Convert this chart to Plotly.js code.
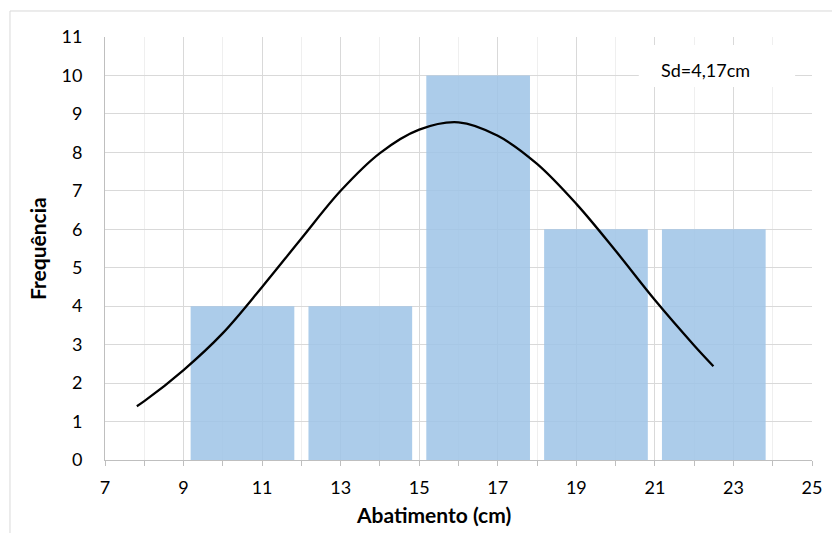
<!DOCTYPE html>
<html>
<head>
<meta charset="utf-8">
<script src="https://cdn.plot.ly/plotly-3.0.1.min.js"></script>
<style>html,body{margin:0;padding:0;background:#fff;}#chart{width:832px;height:533px;}</style>
</head>
<body>
<div id="chart"></div>
<script>
// Histogram bins (class midpoints) and frequencies
const binCenters = [10.5, 13.5, 16.5, 19.5, 22.5];
const frequencies = [4, 4, 10, 6, 6];
// Fitted normal curve
const curveX = [7.81, 8, 9, 10, 11, 12, 13, 14, 15, 16, 17, 18, 19, 20, 21, 22, 22.49];
const curveY = [1.40, 1.53, 2.34, 3.30, 4.50, 5.76, 7.00, 7.98, 8.59, 8.78, 8.43, 7.70, 6.66, 5.44, 4.16, 2.98, 2.44];
const xTicks = [7, 9, 11, 13, 15, 17, 19, 21, 23, 25];
const yTicks = [0, 1, 2, 3, 4, 5, 6, 7, 8, 9, 10, 11];
const sdLabel = 'Sd=4,17cm';
const xTitle = 'Abatimento (cm)';
const yTitle = 'Frequência';

const FONT = 'Lato, Carlito, "Open Sans", sans-serif';

const traces = [
  {
    type: 'bar', x: binCenters, y: frequencies, width: 2.64,
    marker: {color: 'rgba(157,195,230,0.85)', line: {width: 0}},
    hoverinfo: 'skip', showlegend: false
  },
  {
    type: 'scatter', mode: 'lines', x: curveX, y: curveY,
    line: {color: '#000000', width: 2.3, shape: 'spline', smoothing: 1},
    hoverinfo: 'skip', showlegend: false
  }
];

const layout = {
  width: 832, height: 533,
  margin: {l: 105, r: 20, t: 37, b: 73},
  paper_bgcolor: '#ffffff', plot_bgcolor: '#ffffff',
  font: {family: FONT, size: 18, color: '#000000'},
  showlegend: false,
  xaxis: {
    range: [7, 25], tickvals: xTicks, ticktext: xTicks.map(String),
    showgrid: true, gridcolor: '#d9d9d9', gridwidth: 1,
    showline: true, linecolor: '#bfbfbf', linewidth: 1,
    ticks: 'outside', ticklen: 5, tickcolor: '#bfbfbf', ticklabelstandoff: 6,
    minor: {dtick: 1, tick0: 7, showgrid: true, gridcolor: '#efefef', gridwidth: 1, ticks: 'outside', ticklen: 5, tickcolor: '#bfbfbf'},
    zeroline: false, fixedrange: true,
    tickfont: {family: FONT, size: 18, color: '#000000'}
  },
  yaxis: {
    range: [0, 11], tickvals: yTicks, ticktext: yTicks.map(String),
    showgrid: true, gridcolor: '#d9d9d9', gridwidth: 1,
    showline: true, linecolor: '#bfbfbf', linewidth: 1,
    ticks: '', ticklabelstandoff: 18, zeroline: false, fixedrange: true,
    tickfont: {family: FONT, size: 18, color: '#000000'}
  },
  annotations: [
    {
      xref: 'x', yref: 'y', x: 22.30, y: 10.14, text: sdLabel, showarrow: false,
      xanchor: 'center', yanchor: 'middle',
      font: {family: FONT, size: 18, color: '#000000'}
    },
    {
      xref: 'paper', yref: 'paper', x: 0.4653, y: -0.128, text: xTitle, showarrow: false,
      xanchor: 'center', yanchor: 'middle',
      font: {family: FONT, size: 21, color: '#000000', weight: 'bold'}
    },
    {
      xref: 'paper', yref: 'paper', x: -0.0962, y: 0.501, text: yTitle, showarrow: false,
      textangle: -90, xanchor: 'center', yanchor: 'middle',
      font: {family: FONT, size: 21, color: '#000000', weight: 'bold'}
    }
  ],
  shapes: [
    {type: 'rect', xref: 'x', yref: 'y', x0: 20.59, x1: 24.57, y0: 9.70, y1: 10.79, fillcolor: '#ffffff', line: {width: 0}, layer: 'above'},
    {type: 'line', xref: 'paper', yref: 'paper', x0: -0.1344, x1: 1.03, y0: 1.0615, y1: 1.0615, line: {color: '#d9d9d9', width: 1}},
    {type: 'line', xref: 'paper', yref: 'paper', x0: -0.1344, x1: -0.1344, y0: 1.0615, y1: -0.18, line: {color: '#d9d9d9', width: 1}}
  ]
};

Plotly.newPlot('chart', traces, layout, {displayModeBar: false, staticPlot: true});
</script>
</body>
</html>
